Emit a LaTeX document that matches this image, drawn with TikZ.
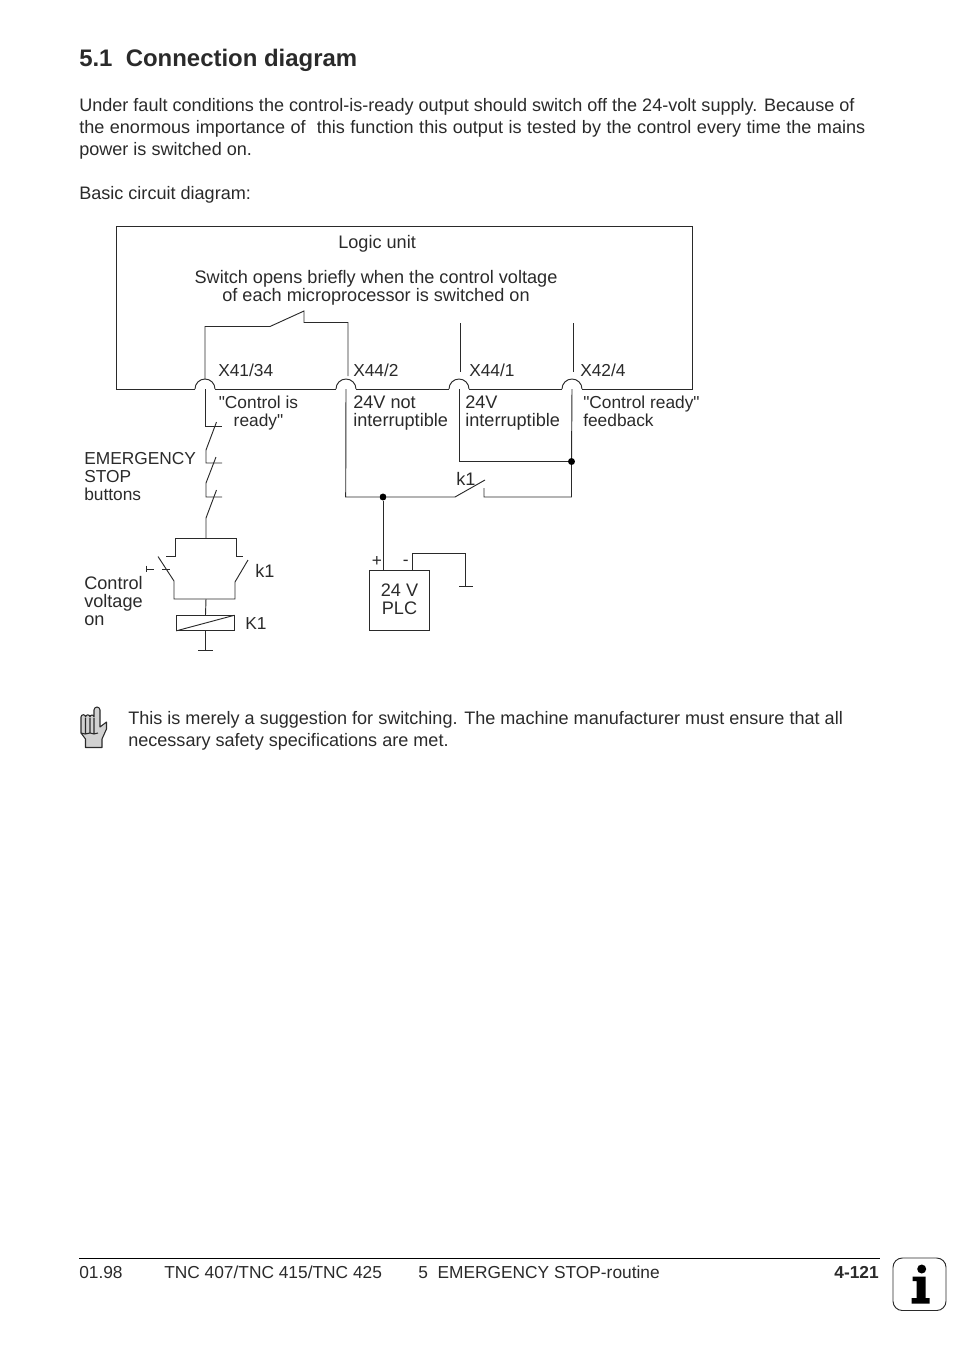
\documentclass[tikz,border=0pt]{standalone}
\usepackage{fontspec}
\setmainfont{Liberation Sans}
\newfontfamily\plainfont{Liberation Sans}
\usetikzlibrary{calc}
\definecolor{ink}{HTML}{2A2A2A}
\tikzset{
	wire/.style={color=ink,line width=0.7pt},
	dot/.style={circle,fill=black,inner sep=0pt,minimum size=5.2pt},
	txt/.style={inner sep=0pt,anchor=north west,align=left,text=ink,font=\plainfont\fontsize{13.6}{13.5}\selectfont},
	caps/.style={txt,font=\plainfont\fontsize{13}{13.5}\selectfont},
	para/.style={txt,font=\plainfont\fontsize{13.55}{16.5}\selectfont},
	ctr/.style={txt,anchor=north,align=center}
}
\begin{document}
\begin{tikzpicture}[x=0.75pt,y=-0.75pt]
	\useasboundingbox (0,0) rectangle (954,1346);
	% page text
	\node[txt,anchor=base west,font=\plainfont\fontsize{17.95}{20}\bfseries\selectfont] (heading) at (79,66) {5.1\ \ Connection diagram};
	\node[para] (intro) at (79,98) {Under fault conditions the control-is-ready output should switch off the 24-volt supply. Because of\\\makebox[589.5pt][s]{the enormous importance of\ \ this function this output is tested by the control every time the mains}\\power is switched on.};
	\node[para] (basic) at (79,186) {Basic circuit diagram:};
	% logic unit
	\coordinate (blc) at (116.5,389);
	\coordinate (tlc) at (116.5,226.5);
	\coordinate (trc) at (692,226.5);
	\coordinate (brc) at (692,389);
	\foreach \term/\x in {x41/205,x44b/346,x44a/459,x42/572} {
		\coordinate (\term) at (\x,389);
		\draw[wire] (\x-10,389) arc[radius=10,start angle=180,end angle=360];
	}
	\draw[wire] ($(x41)+(-10,0)$) -- (blc) -- (tlc) -- (trc) -- (brc) -- ($(x42)+(10,0)$);
	\draw[wire] ($(x41)+(10,0)$) -- ($(x44b)+(-10,0)$);
	\draw[wire] ($(x44b)+(10,0)$) -- ($(x44a)+(-10,0)$);
	\draw[wire] ($(x44a)+(10,0)$) -- ($(x42)+(-10,0)$);
	\node[txt] (logic) at (338,235.5) {Logic unit};
	\node[ctr] (opens) at (376,270.5) {Switch opens briefly when the control voltage\\of each microprocessor is switched on};
	% internal switch
	\draw[wire] (205,379) -- (205,326.5) -- (270,326.5) -- (304,311) -- (304,322.5) -- (348,322.5) -- (348,376);
	\draw[wire] (460,323) -- (460,372);
	\draw[wire] (573,323) -- (573,372);
	% terminal labels
	\node[caps] (lx41) at (218,364) {X41/34};
	\node[caps] (lx44b) at (353,364) {X44/2};
	\node[caps] (lx44a) at (469,364) {X44/1};
	\node[caps] (lx42) at (580,364) {X42/4};
	\node[caps,anchor=north,align=center] (lready) at (258.5,395.5) {"Control is\\ready"};
	\node[txt] (lnot) at (353,396) {24V not\\interruptible};
	\node[txt] (lint) at (465,396) {24V\\interruptible};
	\node[caps] (lfeed) at (583,395.5) {"Control ready"\\feedback};
	% emergency stop chain
	\draw[wire] (x41) -- (205,426) -- (222,426);
	\draw[wire] (216.5,422) -- (206,450) -- (206,463) -- (222,463);
	\draw[wire] (216,457) -- (206,483) -- (206,497) -- (222,497);
	\draw[wire] (216.5,490) -- (206,518) -- (206,538.5);
	\node[caps] (lstop) at (84,452) {EMERGENCY\\STOP\\buttons};
	% k1 and control voltage
	\draw[wire] (166,556) -- (175,556) -- (175,538.5) -- (236,538.5) -- (236,556) -- (243,556);
	\draw[wire] (158,556.5) -- (174,581) -- (174,599) -- (235,599) -- (235,582) -- (248,560);
	\draw[wire] (146,565.5) -- (146,572);
	\draw[wire] (146,569) -- (154,569);
	\draw[wire] (162,569) -- (170,569);
	\node[txt] (lctrl) at (84,576) {Control\\voltage\\on};
	\node[txt] (lk) at (255,564) {k1};
	% relay coil
	\node[draw=ink,line width=0.7pt,minimum width=43pt,minimum height=11pt,inner sep=0pt] (coil) at (205.5,623) {};
	\draw[wire] (coil.south west) -- (coil.north east);
	\draw[wire,line width=1.2pt] (coil.north west) -- (coil.south west);
	\draw[wire] (206,599) -- (coil.north);
	\coordinate (gnda) at (205.5,650);
	\draw[wire] (coil.south) -- (gnda);
	\draw[wire] (198,650) -- (213,650);
	\node[caps] (lcoil) at (245,617) {K1};
	% 24 V supply
	\node[dot] (joina) at (383,497) {};
	\node[dot] (joinb) at (571.5,461.5) {};
	\draw[wire] (x44b) -- (345.7,497) -- (joina) -- (455,497) -- (485,480);
	\draw[wire] (484,488) -- (484,497) -- (571.5,497) -- (joinb) -- (x42);
	\draw[wire] (x44a) -- (459,461.5) -- (joinb);
	\node[txt] (lksw) at (456,472) {k1};
	\node[draw=ink,line width=0.7pt,minimum width=45pt,minimum height=44.5pt,inner sep=0pt] (plc) at (399.5,600.5) {};
	\node[ctr] (lplc) at (399.5,584) {24 V\\PLC};
	\draw[wire] (joina) -- (383,570.5);
	\draw[wire] (412,570.5) -- (412,553) -- (465,553) -- (465,586);
	\draw[wire] (459,586) -- (473,586);
	\node[caps] (lplus) at (371.5,556.5) {+};
	\node[caps] (lminus) at (402.5,560) {-};
	% hand
	\draw[fill=black!18,draw=ink,line width=0.8pt,line join=round] (85.5,747.5) -- (102,747.5) -- (102,739) -- (106.5,729) -- (106.5,722) -- (100,727) -- (100,710) arc[radius=3,start angle=360,end angle=180] -- (94,717) arc[radius=2,start angle=360,end angle=180] -- (90,717) arc[radius=2.2,start angle=360,end angle=180] -- (85.6,717) arc[radius=2.3,start angle=360,end angle=180] -- (81,733) -- (85.5,739) -- cycle;
	\draw[draw=ink,line width=0.8pt] (85.5,718) -- (85.5,733) (90,718) -- (90,733) (94,718) -- (94,733) (81,733) -- (85,734) -- (90,733) -- (94,734) -- (98,733);
	\node[para] (note) at (128,711) {This is merely a suggestion for switching. The machine manufacturer must ensure that all\\necessary safety specifications are met.};
	% footer
	\coordinate (footl) at (79,1258.5);
	\coordinate (footr) at (880,1258.5);
	\draw[color=black,line width=0.7pt] (footl) -- (footr);
	\node[caps,anchor=base west] (fdate) at (79,1278) {01.98};
	\node[caps,anchor=base west] (ftnc) at (164,1278) {TNC 407/TNC 415/TNC 425};
	\node[caps,anchor=base west] (fsec) at (418,1278) {5\ \ EMERGENCY STOP-routine};
	\node[caps,anchor=base east,font=\plainfont\fontsize{13}{13.5}\bfseries\selectfont] (fpage) at (879,1278) {4-121};
	% info mark
	\draw[color=ink,line width=0.7pt,rounded corners=7pt] (893,1258) rectangle (946,1310.5);
	\fill[color=black] (921.7,1269) circle[radius=4.5];
	\fill[color=black] (912.5,1276.5) -- (925.5,1276.5) -- (925.5,1298) -- (929.5,1298) -- (929.5,1303.5) -- (911.5,1303.5) -- (911.5,1298) -- (916.5,1298) -- (916.5,1281) -- (912.5,1281) -- cycle;
\end{tikzpicture}
\end{document}
